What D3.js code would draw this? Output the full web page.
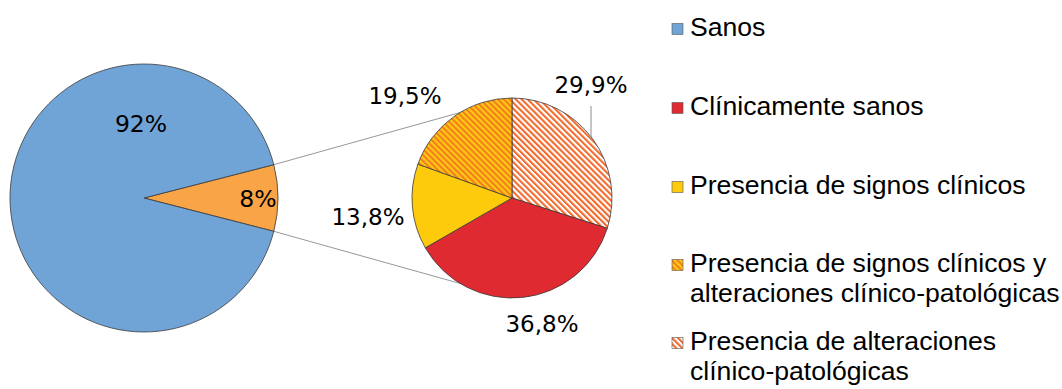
<!DOCTYPE html>
<html>
<head>
<meta charset="utf-8">
<script src="https://cdn.jsdelivr.net/npm/d3@7"></script>
<style>
  html, body { margin: 0; padding: 0; background: #fff; }
  svg { display: block; }
</style>
</head>
<body>
<svg id="chart" width="1062" height="389"></svg>
<script>
// Overall split
const mainCategories = ["Clínicamente y patológicamente afectados", "Sanos"];
const mainValues = [8, 92];
const mainLabels = ["8%", "92%"];

// Breakdown of the 8% slice
const subCategories = [
  "Presencia de alteraciones clínico-patológicas",
  "Clínicamente sanos",
  "Presencia de signos clínicos",
  "Presencia de signos clínicos y alteraciones clínico-patológicas"
];
const subValues = [29.9, 36.8, 13.8, 19.5];
const subLabels = ["29,9%", "36,8%", "13,8%", "19,5%"];

// Legend entries (text lines per entry)
const legendKeys = ["sanos", "clin", "signos", "ambos", "alter"];
const legendLines = [
  ["Sanos"],
  ["Clínicamente sanos"],
  ["Presencia de signos clínicos"],
  ["Presencia de signos clínicos y", "alteraciones clínico-patológicas"],
  ["Presencia de alteraciones", "clínico-patológicas"]
];

const svg = d3.select("#chart");

// Fills
const defs = svg.append("defs");
function stripes(id, bg, fg, w) {
  const p = defs.append("pattern")
    .attr("id", id)
    .attr("patternUnits", "userSpaceOnUse")
    .attr("width", w).attr("height", w)
    .attr("patternTransform", "rotate(-45)");
  p.append("rect").attr("width", w).attr("height", w).attr("fill", bg);
  p.append("rect").attr("width", w / 2).attr("height", w).attr("fill", fg);
}
stripes("hatchOrange", "#fdcb10", "#f47e1f", 4.2);
stripes("hatchWhite", "#ffffff", "#f26a2b", 4.2);

const fillFor = {
  sanos: "#71a4d6",
  grupo: "#f9a446",
  clin: "#e02a31",
  signos: "#fdca0c",
  ambos: "url(#hatchOrange)",
  alter: "url(#hatchWhite)"
};
const mainKeys = ["grupo", "sanos"];
const subKeys = ["alter", "clin", "signos", "ambos"];

// Geometry
const big = { cx: 144, cy: 198, r: 134 };
const small = { cx: 512, cy: 198, r: 100 };
const edgeColor = "#3a3a3a";

// Main pie: the small slice is centred on the right-hand side
const mainStart = Math.PI / 2 - (mainValues[0] / d3.sum(mainValues)) * Math.PI;
const mainPie = d3.pie().sort(null).startAngle(mainStart).endAngle(mainStart + 2 * Math.PI);
const mainArcs = mainPie(mainValues);
const subArcs = d3.pie().sort(null)(subValues);

const pt = (c, r, a) => [c.cx + r * Math.sin(a), c.cy - r * Math.cos(a)];

// Connector lines from the 8% slice to the secondary pie
const g0 = mainArcs[0];
const connectors = [
  [pt(big, big.r, g0.startAngle), [small.cx, small.cy - small.r]],
  [pt(big, big.r, g0.endAngle), [small.cx, small.cy + small.r]]
];
svg.append("g").selectAll("line").data(connectors).join("line")
  .attr("x1", d => d[0][0]).attr("y1", d => d[0][1])
  .attr("x2", d => d[1][0]).attr("y2", d => d[1][1])
  .attr("stroke", "#8c8c8c").attr("stroke-width", 0.9);

// Main pie
const arcBig = d3.arc().innerRadius(0).outerRadius(big.r);
svg.append("g").attr("transform", `translate(${big.cx},${big.cy})`)
  .selectAll("path").data(mainArcs).join("path")
  .attr("d", arcBig)
  .attr("fill", (d, i) => fillFor[mainKeys[i]])
  .attr("stroke", edgeColor).attr("stroke-width", 0.8);

// Secondary pie
const arcSmall = d3.arc().innerRadius(0).outerRadius(small.r);
svg.append("g").attr("transform", `translate(${small.cx},${small.cy})`)
  .selectAll("path").data(subArcs).join("path")
  .attr("d", arcSmall)
  .attr("fill", (d, i) => fillFor[subKeys[i]])
  .attr("stroke", edgeColor).attr("stroke-width", 0.8);

// Value labels (offsets from each pie's centre)
const labelFont = "'DejaVu Sans', sans-serif";
const mainLabelPos = [[114, 9], [-3, -66]];
const subLabelPos = [[79, -105], [30, 134], [-144, 27], [-107, -94]];

svg.append("g").selectAll("text").data(mainLabels).join("text")
  .attr("x", (d, i) => big.cx + mainLabelPos[i][0])
  .attr("y", (d, i) => big.cy + mainLabelPos[i][1])
  .attr("text-anchor", "middle")
  .attr("font-family", labelFont).attr("font-size", 23.5)
  .attr("fill", "#000").text(d => d);

svg.append("g").selectAll("text").data(subLabels).join("text")
  .attr("x", (d, i) => small.cx + subLabelPos[i][0])
  .attr("y", (d, i) => small.cy + subLabelPos[i][1])
  .attr("text-anchor", "middle")
  .attr("font-family", labelFont).attr("font-size", 23)
  .attr("fill", "#000").text(d => d);

// Leader for the 29,9% label
{
  const lx = small.cx + subLabelPos[0][0];
  const a = Math.asin((lx - small.cx) / small.r);
  const edge = pt(small, small.r, a);
  svg.append("line")
    .attr("x1", lx).attr("y1", small.cy + subLabelPos[0][1] + 13)
    .attr("x2", lx).attr("y2", edge[1] + 2)
    .attr("stroke", "#8c8c8c").attr("stroke-width", 1);
}

// Legend
const legendTop = [29, 108, 187, 265, 343];
const legend = svg.append("g");
legendKeys.forEach((k, i) => {
  const y = legendTop[i];
  legend.append("rect")
    .attr("x", 672).attr("y", y - 5.5).attr("width", 11).attr("height", 11)
    .attr("fill", fillFor[k]).attr("stroke", "#555").attr("stroke-width", 0.6);
  legendLines[i].forEach((line, j) => {
    legend.append("text")
      .attr("x", 690).attr("y", y + 7 + j * 30)
      .attr("font-family", "'Liberation Sans', Arial, sans-serif")
      .attr("font-size", 26.6).attr("fill", "#000")
      .text(line);
  });
});
</script>
</body>
</html>
